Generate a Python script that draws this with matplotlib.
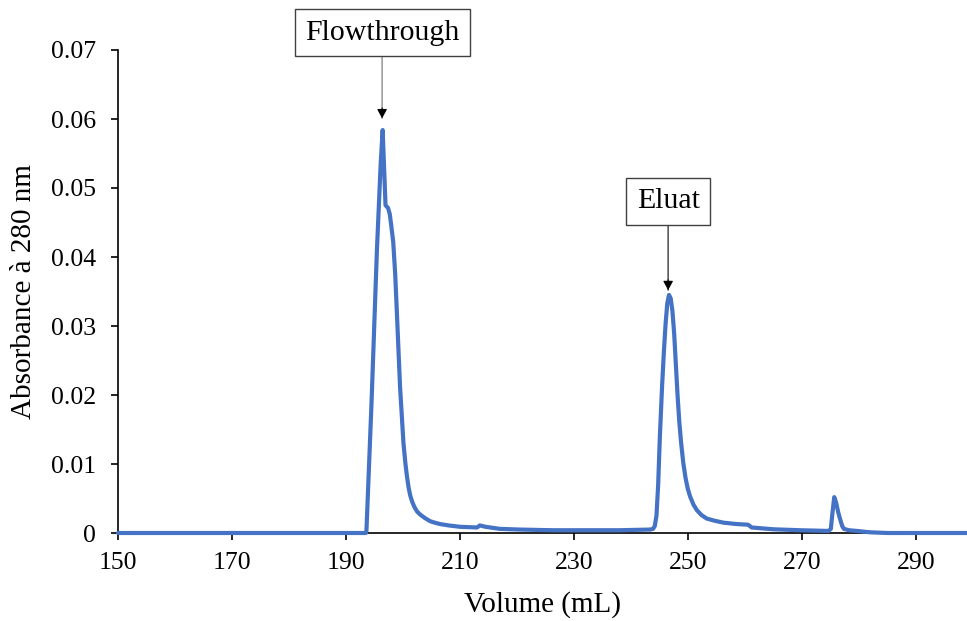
import matplotlib
matplotlib.use("Agg")
import matplotlib.pyplot as plt
from matplotlib.ticker import FuncFormatter

# ---- data ----
volume_ml = [150.0, 193.5, 193.6, 194.5, 195.44, 196.1, 196.45, 196.95, 197.4,
             197.7, 197.95, 198.3, 198.65, 198.95, 199.5, 200.1, 200.45, 200.7,
             201.0, 201.3, 201.6, 202.0, 202.5, 203.0, 203.8, 204.8, 205.6,
             206.5, 208.0, 210.0, 213.0, 213.5, 214.5, 217.0, 220.5, 226.3,
             238.0, 243.4, 243.9, 244.2, 244.5, 244.8, 245.1, 245.5, 245.8,
             246.1, 246.4, 246.7, 247.0, 247.3, 247.6, 247.9, 248.2, 248.5,
             248.8, 249.2, 249.6, 250.0, 250.4, 251.0, 251.6, 252.4, 253.3,
             254.6, 256.25, 258.5, 260.6, 261.2, 265.0, 269.75, 274.7, 275.1,
             275.4, 275.7, 276.0, 276.4, 276.7, 277.1, 277.4, 278.3, 279.65,
             282.0, 285.0, 299.0]
absorbance = [0.0, 0.0, 0.0003, 0.019, 0.041, 0.0535, 0.0584, 0.0475, 0.0471,
              0.0462, 0.0446, 0.0422, 0.0375, 0.0318, 0.0212, 0.0130, 0.0100, 0.0083,
              0.0066, 0.0054, 0.0046, 0.0038, 0.0031, 0.0027, 0.0022, 0.0017, 0.0015,
              0.0013, 0.0011, 0.0009, 0.0008, 0.0011, 0.0009, 0.0006, 0.0005, 0.0004,
              0.0004, 0.0005, 0.0006, 0.0010, 0.0025, 0.0070, 0.0140, 0.0215, 0.0262,
              0.0303, 0.0333, 0.0345, 0.0340, 0.0322, 0.0290, 0.0245, 0.0200, 0.0162,
              0.0133, 0.0102, 0.0080, 0.0064, 0.0053, 0.0041, 0.0033, 0.0026, 0.0021,
              0.0018, 0.0015, 0.0013, 0.0012, 0.0008, 0.00054, 0.0004, 0.0003, 0.0006,
              0.0030, 0.0052, 0.0045, 0.0030, 0.0021, 0.0010, 0.0006, 0.0004, 0.0003,
              0.0001, 0.0, 0.0]

x_ticks = [150, 170, 190, 210, 230, 250, 270, 290]
y_ticks = [0, 0.01, 0.02, 0.03, 0.04, 0.05, 0.06, 0.07]

annot_labels = ["Flowthrough", "Eluat"]
annot_x = [196.35, 246.55]          # peak positions (mL)
annot_tip = [0.0601, 0.0352]       # arrow tip values
annot_box_center = [0.0725, 0.0481]
annot_box_bottom = [0.0690, 0.0446]
annot_line_colors = ["#8c8c8c", "#3a3a3a"]

# ---- figure ----
plt.rcParams['font.family'] = ['Liberation Serif', 'DejaVu Serif']
fig = plt.figure(figsize=(9.67, 6.21), dpi=100)
ax = fig.add_axes([118 / 967, 1 - 533 / 621, 1 - 118 / 967, (533 - 50) / 621])

ax.plot(volume_ml, absorbance, color="#4472C4", linewidth=3.0,
        solid_joinstyle='round', solid_capstyle='round', zorder=3, clip_on=False)

ax.set_xlim(150, 299)
ax.set_ylim(0, 0.07)
ax.set_xticks(x_ticks)
ax.set_yticks(y_ticks)
ax.yaxis.set_major_formatter(FuncFormatter(lambda v, p: "0" if abs(v) < 1e-12 else f"{v:.2f}"))

for s in ["top", "right"]:
    ax.spines[s].set_visible(False)
for s in ["left", "bottom"]:
    ax.spines[s].set_linewidth(1.2)
    ax.spines[s].set_color("black")

ax.tick_params(axis='both', direction='out', length=5, width=1.2, labelsize=18.5, color='black')
ax.tick_params(axis='x', pad=9)
ax.tick_params(axis='y', pad=11)

ax.set_xlabel("Volume (mL)", fontsize=21, labelpad=12)
ax.set_ylabel("Absorbance à 280 nm", fontsize=21, labelpad=10)

for lab, xv, tip, bc, bb, lc in zip(annot_labels, annot_x, annot_tip,
                                    annot_box_center, annot_box_bottom, annot_line_colors):
    ax.text(xv, bc, lab, fontsize=21.5, ha='center', va='center', clip_on=False, zorder=5,
            bbox=dict(boxstyle='square,pad=0.35', facecolor='white',
                      edgecolor='#404040', linewidth=1.0))
    ax.annotate("", xy=(xv, tip), xytext=(xv, bb), annotation_clip=False,
                arrowprops=dict(arrowstyle='-', color=lc, linewidth=1.0,
                                shrinkA=0, shrinkB=0))
    ax.annotate("", xy=(xv, tip), xytext=(xv, tip + 0.0015), annotation_clip=False,
                arrowprops=dict(arrowstyle='-|>,head_length=0.55,head_width=0.3',
                                color='black', linewidth=0.8, shrinkA=0, shrinkB=0))

fig.savefig("out.png", dpi=100)
